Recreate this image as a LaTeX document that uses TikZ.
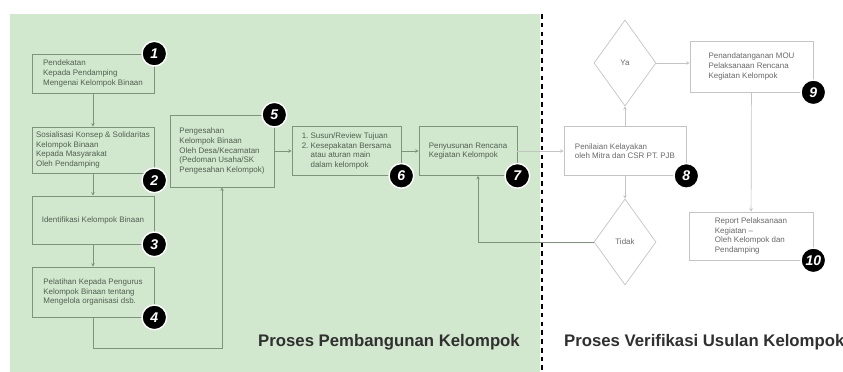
\documentclass[tikz,border=0pt]{standalone}
\usepackage{fontspec}
\setmainfont{Liberation Sans}
\usetikzlibrary{shapes.geometric,arrows.meta,positioning}
\definecolor{mint}{RGB}{210, 232, 206}
\definecolor{mintline}{RGB}{125, 148, 122}
\definecolor{ash}{RGB}{196, 196, 196}
\definecolor{inkgreen}{RGB}{80, 96, 80}
\definecolor{inkgray}{RGB}{105, 105, 105}
\definecolor{titlegray}{RGB}{48, 48, 48}

\begin{document}
\begin{tikzpicture}[x=0.03cm, y=-0.03cm,
    greenbox/.style={draw=mintline, fill=mint, line width=0.6pt, align=left, inner sep=0pt,
                     font=\fontsize{6.8}{8.2}\selectfont, text=inkgreen},
    whitebox/.style={draw=ash, fill=white, line width=0.6pt, align=left, inner sep=0pt,
                     font=\fontsize{6.8}{8.2}\selectfont, text=inkgray},
    choice/.style={diamond, draw=ash, fill=white, line width=0.6pt, inner sep=0pt,
                   minimum width=1.86cm, minimum height=2.58cm,
                   font=\fontsize{6.8}{8.2}\selectfont, text=inkgray},
    badge/.style={circle, fill=black, draw=white, line width=1.2pt, minimum size=0.74cm, inner sep=0pt,
                  text=white, font=\fontsize{12}{12}\selectfont\bfseries\itshape},
    greenarrow/.style={draw=mintline, line width=0.6pt, -{Stealth[length=3pt, width=3pt]}},
    grayarrow/.style={draw=ash, line width=0.6pt, -{Stealth[length=3pt, width=3pt]}},
    caption/.style={font=\fontsize{14.3}{16}\selectfont\bfseries, text=titlegray}]
    \useasboundingbox (0,0) rectangle (843,372);
    \clip (0,0) rectangle (843,372);
    \fill[white] (0,0) rectangle (843,372);
    \fill[mint]  (10,14) rectangle (540,372);
    \draw[black, line width=1.6pt, dash pattern=on 4pt off 3.5pt] (542,14) -- (542,372);

    \node[greenbox, minimum width=3.66cm, minimum height=1.17cm] (box1) at ( 93, 73.5)
        {Pendekatan\\Kepada Pendamping\\Mengenai Kelompok Binaan};
    \node[greenbox, minimum width=3.66cm, minimum height=1.38cm] (box2) at ( 93,150)
        {Sosialisasi Konsep \& Solidaritas\\Kelompok Binaan\\Kepada Masyarakat\\Oleh Pendamping};
    \node[greenbox, minimum width=3.66cm, minimum height=1.44cm] (box3) at ( 93,220)
        {Identifikasi Kelompok Binaan};
    \node[greenbox, minimum width=3.66cm, minimum height=1.50cm] (box4) at ( 93,292)
        {Pelatihan Kepada Pengurus\\Kelompok Binaan tentang\\Mengelola organisasi dsb.};
    \node[greenbox, minimum width=3.12cm, minimum height=2.16cm] (box5) at (222,151)
        {Pengesahan\\Kelompok Binaan\\Oleh Desa/Kecamatan\\(Pedoman Usaha/SK\\Pengesahan Kelompok)};
    \node[greenbox, minimum width=3.27cm, minimum height=1.47cm] (box6) at (346.5,151)
        {1.~Susun/Review Tujuan\\2.~Kesepakatan Bersama\\\phantom{2.~}atau aturan main\\\phantom{2.~}dalam kelompok};
    \node[greenbox, minimum width=2.94cm, minimum height=1.47cm] (box7) at (468,151)
        {Penyusunan Rencana\\Kegiatan Kelompok};

    \node[whitebox, minimum width=3.66cm, minimum height=1.47cm] (box8) at (625,151)
        {Penilaian Kelayakan\\oleh Mitra dan CSR PT. PJB};
    \node[choice] (ya)    at (625, 63) {Ya};
    \node[choice] (tidak) at (625,242) {Tidak};
    \node[whitebox, minimum width=3.69cm, minimum height=1.53cm] (box9) at (751.5,66.5)
        {Penandatanganan MOU\\Pelaksanaan Rencana\\Kegiatan Kelompok};
    \node[whitebox, minimum width=3.72cm, minimum height=1.44cm] (box10) at (751,236)
        {Report Pelaksanaan\\Kegiatan --\\Oleh Kelompok dan\\Pendamping};

    \draw[greenarrow] (box1) -- (box2);
    \draw[greenarrow] (box2) -- (box3);
    \draw[greenarrow] (box3) -- (box4);
    \draw[greenarrow] (box4.south) -- ++(0,31) -| (box5.south);
    \draw[greenarrow] (box5) -- (box6);
    \draw[greenarrow] (box6) -- (box7);
    \draw[grayarrow]  (box7) -- (box8);
    \draw[grayarrow]  (box8) -- (ya);
    \draw[grayarrow]  (box8) -- (tidak);
    \draw[grayarrow]  (ya.east) -- (ya.east -| box9.west);
    \draw[grayarrow]  (box9) -- (box10);
    \draw[greenarrow] (tidak.west) -| ([xshift=0.3cm]box7.south);

    \node[badge] (n1)  at (box1.north east) {1};
    \node[badge] (n2)  at ([yshift=-0.21cm]box2.south east) {2};
    \node[badge] (n3)  at (box3.south east) {3};
    \node[badge] (n4)  at (box4.south east) {4};
    \node[badge] (n5)  at (box5.north east) {5};
    \node[badge] (n6)  at (box6.south east) {6};
    \node[badge] (n7)  at (box7.south east) {7};
    \node[badge] (n8)  at (box8.south east) {8};
    \node[badge] (n9)  at (box9.south east) {9};
    \node[badge] (n10) at (box10.south east) {10};

    \node[caption]              (capA) at (389,342) {Proses Pembangunan Kelompok};
    \node[caption, anchor=west] (capB) at (560,342) {Proses Verifikasi Usulan Kelompok};
\end{tikzpicture}
\end{document}
